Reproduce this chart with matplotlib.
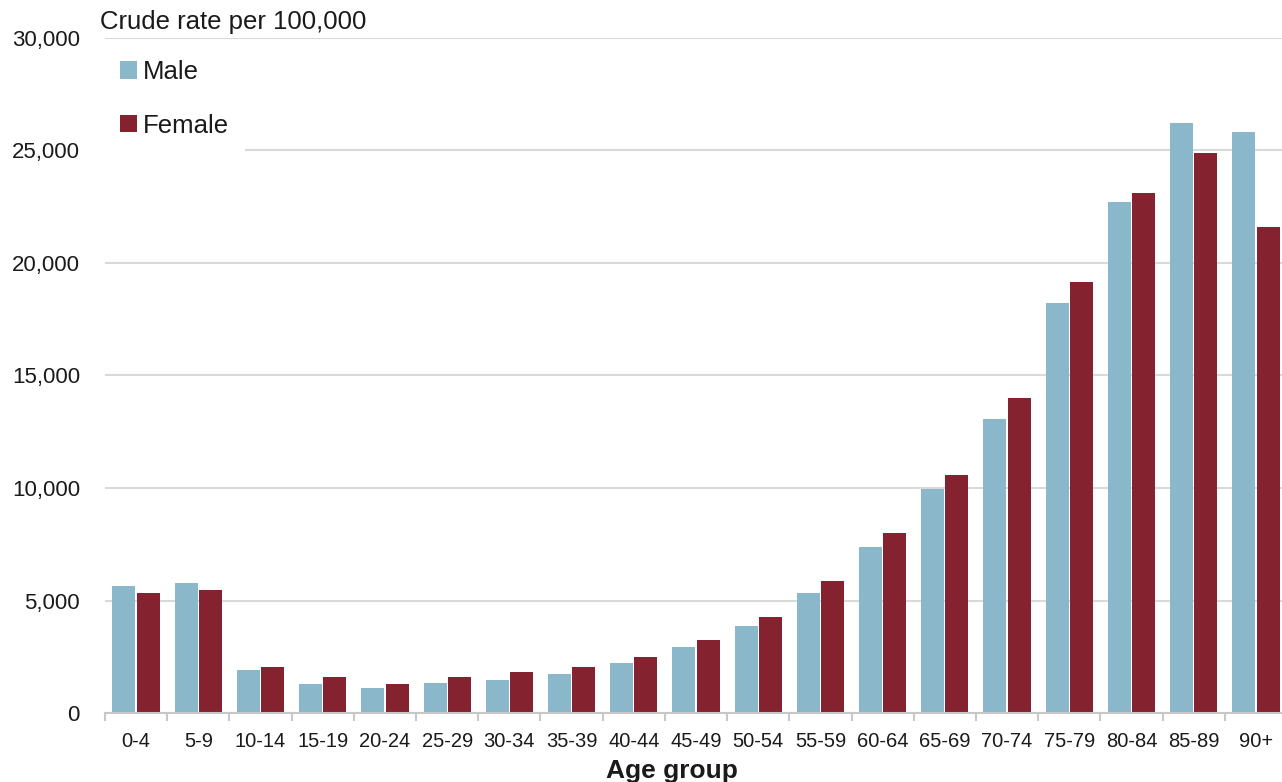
import numpy as np
import matplotlib.pyplot as plt

age_groups = ["0-4", "5-9", "10-14", "15-19", "20-24", "25-29", "30-34", "35-39",
              "40-44", "45-49", "50-54", "55-59", "60-64", "65-69", "70-74",
              "75-79", "80-84", "85-89", "90+"]
male = [5650, 5780, 1910, 1290, 1110, 1350, 1470, 1730, 2210, 2950, 3870,
        5320, 7400, 9940, 13050, 18240, 22710, 26210, 25800]
female = [5320, 5470, 2030, 1590, 1290, 1590, 1810, 2030, 2500, 3240, 4280,
          5880, 8000, 10580, 13990, 19160, 23100, 24870, 21610]
y_ticks = [0, 5000, 10000, 15000, 20000, 25000, 30000]

male_color = "#8bb7ca"
female_color = "#85222f"
text_color = "#1a1a1a"

plt.rcParams["font.family"] = ["Liberation Sans", "DejaVu Sans"]

fig = plt.figure(figsize=(12.82, 7.82), dpi=100)
ax = fig.add_axes([105 / 1282, 1 - 713 / 782, 1182 / 1282, 675 / 782])

x = np.arange(len(age_groups))
w = 0.37
ax.bar(x - w / 2 - 0.01, male, width=w, color=male_color, label="Male", zorder=2)
ax.bar(x + w / 2 + 0.01, female, width=w, color=female_color, label="Female", zorder=2)

ax.set_xlim(-0.5, len(age_groups) - 0.5)
ax.set_ylim(0, 30000)
ax.set_yticks(y_ticks)
ax.set_yticklabels([f"{v:,}" for v in y_ticks])
ax.set_xticks(x)
ax.set_xticklabels(age_groups)
ax.set_xticks(np.arange(len(age_groups) + 1) - 0.5, minor=True)

ax.tick_params(axis="y", length=0, pad=18, labelsize=16, labelcolor=text_color)
ax.tick_params(axis="x", which="major", length=0, pad=14, labelsize=14.5, labelcolor=text_color)
ax.tick_params(axis="x", which="minor", length=6, width=1.5, color="#c8c8c8")

ax.grid(axis="y", color="#d9d9d9", linewidth=1.5, zorder=0)
ax.set_axisbelow(True)
for s in ["left", "right", "top"]:
    ax.spines[s].set_visible(False)
ax.spines["bottom"].set_color("#c8c8c8")
ax.spines["bottom"].set_linewidth(1.5)

leg = ax.legend(loc="upper left", bbox_to_anchor=(0.0, 0.99), frameon=True,
                fontsize=18.5, handlelength=0.66, handleheight=0.66,
                handletextpad=0.23, labelspacing=1.15, borderpad=0.6,
                borderaxespad=0.0, fancybox=False)
leg.get_frame().set_facecolor("white")
leg.get_frame().set_edgecolor("none")
leg.get_frame().set_alpha(1)
for t in leg.get_texts():
    t.set_color(text_color)

fig.text(100 / 1282, 1 - 22 / 782, "Crude rate per 100,000", fontsize=18.5,
         color=text_color, ha="left", va="center")
fig.text(672 / 1282, 1 - 771 / 782, "Age group", fontsize=19, fontweight="bold",
         color=text_color, ha="center", va="center")

fig.savefig("out.png", dpi=100)
